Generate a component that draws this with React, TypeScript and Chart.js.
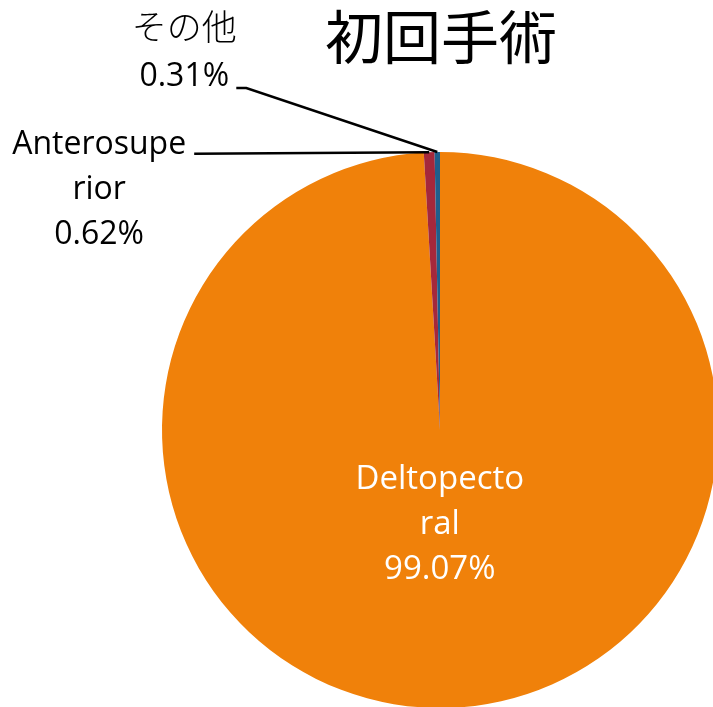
import React, { useEffect, useRef } from "react";
import { Chart, registerables } from "chart.js";

Chart.register(...registerables);

const titleText = "初回手術";
const categories = ["Deltopectoral", "Anterosuperior", "その他"];
const labelLines = [["Deltopecto", "ral"], ["Anterosupe", "rior"], ["その他"]];
const values = [99.07, 0.62, 0.31];
const colors = ["#F0810A", "#A5283B", "#1F5E8C"];

const LATIN = "'Open Sans', 'Noto Sans', sans-serif";
const CJK = "'Noto Sans CJK JP', sans-serif";

const labelPlugin = {
  id: "pieLabels",
  afterDraw(chart: any) {
    const ctx = chart.ctx as CanvasRenderingContext2D;
    const meta = chart.getDatasetMeta(0);
    const arcs = meta.data as any[];
    ctx.save();
    // title
    ctx.fillStyle = "#000";
    ctx.textAlign = "center";
    ctx.textBaseline = "alphabetic";
    ctx.font = `400 58px ${CJK}`;
    const cx0 = arcs[0].x;
    ctx.fillText(titleText, cx0 + 1, 59);

    const pct = (v: number) => v.toFixed(2) + "%";
    const lh = 45;

    // Deltopectoral (inside)
    {
      const a = arcs[0];
      const mid = (a.startAngle + a.endAngle) / 2;
      const r = a.outerRadius * 0.345;
      const x = a.x + Math.cos(mid) * r - 3;
      const y = a.y + Math.sin(mid) * r;
      ctx.fillStyle = "#fff";
      ctx.font = `33px ${LATIN}`;
      const lines = [...labelLines[0], pct(values[0])];
      lines.forEach((t, i) => ctx.fillText(t, x, y - 37 + i * lh));
    }

    ctx.strokeStyle = "#000";
    ctx.lineWidth = 2.5;
    // Anterosuperior (outside, left)
    {
      const a = arcs[1];
      const mid = (a.startAngle + a.endAngle) / 2;
      const px = a.x + Math.cos(mid) * a.outerRadius;
      const py = a.y + Math.sin(mid) * a.outerRadius;
      const lx = px - 330;
      ctx.beginPath();
      ctx.moveTo(lx + 95, py + 1.5);
      ctx.lineTo(px, py);
      ctx.stroke();
      ctx.fillStyle = "#000";
      ctx.font = `32px ${LATIN}`;
      const lines = [...labelLines[1], pct(values[1])];
      lines.forEach((t, i) => ctx.fillText(t, lx, py + 2 + i * lh));
    }
    // その他 (outside, upper left)
    {
      const a = arcs[2];
      const mid = (a.startAngle + a.endAngle) / 2;
      const px = a.x + Math.cos(mid) * a.outerRadius;
      const py = a.y + Math.sin(mid) * a.outerRadius;
      const lx = px - 253;
      const ly = py - 66;
      ctx.beginPath();
      ctx.moveTo(lx + 52, ly + 2);
      ctx.lineTo(lx + 62, ly + 2);
      ctx.lineTo(px, py);
      ctx.stroke();
      ctx.fillStyle = "#000";
      ctx.font = `300 35px ${CJK}`;
      ctx.fillText(labelLines[2][0], lx, ly - 46);
      ctx.font = `32px ${LATIN}`;
      ctx.fillText(pct(values[2]), lx, ly);
    }
    ctx.restore();
  },
};

export default function App() {
  const ref = useRef<HTMLCanvasElement>(null);
  useEffect(() => {
    if (!ref.current) return;
    const chart = new Chart(ref.current, {
      type: "pie",
      data: {
        labels: categories,
        datasets: [
          {
            data: values,
            backgroundColor: colors,
            borderWidth: 0,
          },
        ],
      },
      options: {
        responsive: false,
        animation: false,
        layout: { padding: { left: 162, right: 12, top: 152, bottom: 22 } },
        plugins: {
          legend: { display: false },
          title: { display: false },
          tooltip: { enabled: false },
        },
      },
      plugins: [labelPlugin],
    });
    return () => chart.destroy();
  }, []);
  return (
    <div
      style={{
        position: "fixed",
        left: 0,
        top: 0,
        width: 713,
        height: 707,
        overflow: "hidden",
        background: "#fff",
      }}
    >
      <canvas ref={ref} width={730} height={730} style={{ width: 730, height: 730, display: "block" }} />
    </div>
  );
}
